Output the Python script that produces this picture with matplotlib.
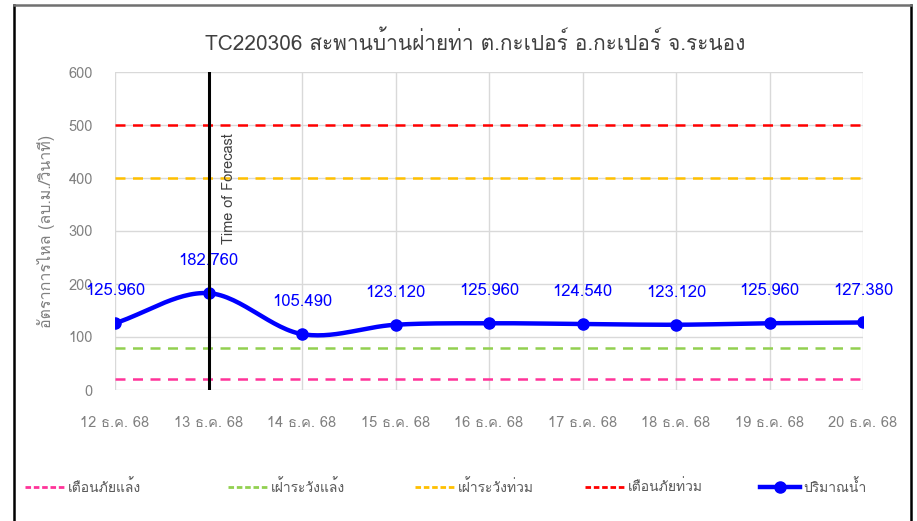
import numpy as np
import matplotlib
matplotlib.use("Agg")
import matplotlib.pyplot as plt
from matplotlib import font_manager
from matplotlib.ft2font import FT2Font
from matplotlib.lines import Line2D

# ---------------- data ----------------
categories = ["12 ธ.ค. 68", "13 ธ.ค. 68", "14 ธ.ค. 68", "15 ธ.ค. 68", "16 ธ.ค. 68",
              "17 ธ.ค. 68", "18 ธ.ค. 68", "19 ธ.ค. 68", "20 ธ.ค. 68"]
flow = [125.960, 182.760, 105.490, 123.120, 125.960, 124.540, 123.120, 125.960, 127.380]
drought_warning = 20
drought_watch = 80
flood_watch = 400
flood_warning = 500
forecast_index = 1
title = "TC220306 สะพานบ้านฝ่ายท่า ต.กะเปอร์ อ.กะเปอร์ จ.ระนอง"
ylabel = "อัตราการไหล (ลบ.ม./วินาที)"
legend_labels = ["เตือนภัยแล้ง", "เฝ้าระวังแล้ง", "เฝ้าระวังท่วม", "เตือนภัยท่วม", "ปริมาณน้ำ"]

# ---------------- font with Thai glyphs ----------------
def has_thai(path):
    try:
        return 0x0E01 in FT2Font(path).get_charmap()
    except Exception:
        return False

thai_font = None
for fe in font_manager.fontManager.ttflist:
    if has_thai(fe.fname):
        thai_font = fe.name
        break
families = ([thai_font] if thai_font else []) + ["DejaVu Sans"]
plt.rcParams["font.family"] = families

# ---------------- smoothing (Catmull-Rom, like Excel smoothed line) ----------------
def smooth(xs, ys, n=30):
    xs = np.asarray(xs, float); ys = np.asarray(ys, float)
    px = np.concatenate([[2*xs[0]-xs[1]], xs, [2*xs[-1]-xs[-2]]])
    py = np.concatenate([[2*ys[0]-ys[1]], ys, [2*ys[-1]-ys[-2]]])
    ox, oy = [], []
    for i in range(1, len(px)-2):
        t = np.linspace(0, 1, n, endpoint=False)
        for p, o in ((px, ox), (py, oy)):
            p0, p1, p2, p3 = p[i-1], p[i], p[i+1], p[i+2]
            c1 = p1 + (p2 - p0) / 6
            c2 = p2 - (p3 - p1) / 6
            o.extend((1-t)**3*p1 + 3*(1-t)**2*t*c1 + 3*(1-t)*t**2*c2 + t**3*p2)
    ox.append(xs[-1]); oy.append(ys[-1])
    return np.array(ox), np.array(oy)

W, H = 917, 521
fig = plt.figure(figsize=(W/100, H/100), dpi=100)
ax = fig.add_axes([115/W, 1-390/H, (863-115)/W, (390-72)/H])

x = np.arange(len(categories))
gray = "#808080"
ax.set_xlim(0, len(categories)-1)
ax.set_ylim(0, 600)
ax.set_yticks(np.arange(0, 601, 100))
ax.set_xticks(x)
ax.set_xticklabels(categories)
ax.tick_params(axis="both", length=0, colors=gray, labelsize=10.5)
ax.tick_params(axis="x", pad=19)
ax.tick_params(axis="y", pad=16)
for s in ax.spines.values():
    s.set_visible(False)
ax.grid(True, color="#d9d9d9", linewidth=1)
ax.set_axisbelow(True)

# thresholds
ax.axhline(drought_warning, color="#ff3399", ls=(0, (4, 3)), lw=1.8)
ax.axhline(drought_watch, color="#92d050", ls=(0, (4, 3)), lw=1.8)
ax.axhline(flood_watch, color="#ffc000", ls=(0, (4, 3)), lw=1.8)
ax.axhline(flood_warning, color="#ff0000", ls=(0, (4, 3)), lw=1.8)

# flow
sx, sy = smooth(x, flow)
ax.plot(sx, sy, color="#0000ff", lw=3.2, solid_capstyle="round", zorder=4)
ax.plot(x, flow, "o", color="#0000ff", ms=8, zorder=5)
for xi, v in zip(x, flow):
    ax.annotate(f"{v:.3f}", (xi, v), xytext=(0, 23), textcoords="offset points",
                ha="center", va="center", color="#0000ff", fontsize=12, zorder=6)

# forecast line
ax.axvline(forecast_index, color="black", lw=2.2, zorder=6)
ax.text(forecast_index + 0.14, 485, "Time of Forecast", rotation=90, ha="left", va="top",
        color="#404040", fontsize=10.5)

ax.set_ylabel(ylabel, color=gray, fontsize=11.5, labelpad=10)
fig.text(475/W, 1-42/H, title, ha="center", va="center", fontsize=15, color="#404040")

# legend: one entry per column position
handles = [
    Line2D([], [], color="#ff3399", ls=(0, (2, 1)), lw=2),
    Line2D([], [], color="#92d050", ls=(0, (2, 1)), lw=2),
    Line2D([], [], color="#ffc000", ls=(0, (2, 1)), lw=2),
    Line2D([], [], color="#ff0000", ls=(0, (2, 1)), lw=2),
    Line2D([], [], color="#0000ff", lw=3.2, marker="o", ms=8),
]
starts = [25, 228, 415, 585, 760]
for hnd, lab, sx0 in zip(handles, legend_labels, starts):
    leg = fig.legend([hnd], [lab], loc="center left", bbox_to_anchor=(sx0/W, 1-487/H),
                     frameon=False, fontsize=10, handlelength=2.9, handletextpad=0.2,
                     borderpad=0, borderaxespad=0)
    for t in leg.get_texts():
        t.set_color("#595959")

# chart border
fig.add_artist(Line2D([14/W, 14/W], [0, 1-5/H], color="black", lw=1.8, transform=fig.transFigure))
fig.add_artist(Line2D([911/W, 911/W], [0, 1-5/H], color="black", lw=1.8, transform=fig.transFigure))
fig.add_artist(Line2D([14/W, 911/W], [1-5/H, 1-5/H], color="#707070", lw=1.8, transform=fig.transFigure))

fig.savefig("out.png", dpi=100)
